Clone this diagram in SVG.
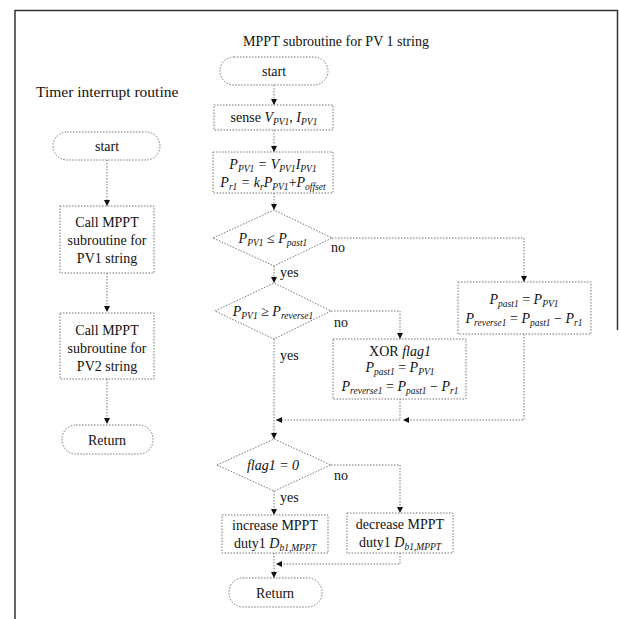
<svg xmlns="http://www.w3.org/2000/svg" width="619" height="619" viewBox="0 0 619 619">
<defs>
<style>
.frame{fill:none;stroke:#333;stroke-width:1.5}
.ln{fill:none;stroke:#777;stroke-width:1;stroke-dasharray:1.5 1.5}
.bx{fill:#fff;stroke:#777;stroke-width:1;stroke-dasharray:1.5 1.5}
.t{font-family:"Liberation Serif","Times New Roman",serif;font-size:14px;fill:#111}
.c{text-anchor:middle}
.m{font-style:italic}
.s{font-size:9.5px;font-style:italic}
</style>
<marker id="ar" markerUnits="userSpaceOnUse" markerWidth="7" markerHeight="7" refX="6" refY="3" orient="auto">
<path d="M0,0 L6,3 L0,6 z" fill="#111"/>
</marker>
</defs>
<rect width="619" height="619" fill="#fff"/>
<path class="frame" d="M15,619 V10.5 H617.5 V330"/>
<text class="t c" x="336" y="46">MPPT subroutine for PV 1 string</text>
<text class="t" x="36" y="97" style="font-size:15.5px">Timer interrupt routine</text>

<g id="connectors">
<path class="ln" d="M107,160 V206" marker-end="url(#ar)"/>
<path class="ln" d="M107,273 V312" marker-end="url(#ar)"/>
<path class="ln" d="M107,379 V424" marker-end="url(#ar)"/>
<path class="ln" d="M274,85 V105" marker-end="url(#ar)"/>
<path class="ln" d="M274,130 V152" marker-end="url(#ar)"/>
<path class="ln" d="M274,193 V210" marker-end="url(#ar)"/>
<path class="ln" d="M274,266 V283" marker-end="url(#ar)"/>
<path class="ln" d="M332,238 H524 V282" marker-end="url(#ar)"/>
<path class="ln" d="M331,311 H400 V339" marker-end="url(#ar)"/>
<path class="ln" d="M274,339 V439" marker-end="url(#ar)"/>
<path class="ln" d="M524,334 V420 H403" marker-end="url(#ar)"/>
<path class="ln" d="M400,399 V420 H276" marker-end="url(#ar)"/>
<path class="ln" d="M331,465 H400 V513" marker-end="url(#ar)"/>
<path class="ln" d="M274,491 V515" marker-end="url(#ar)"/>
<path class="ln" d="M274,553 V578" marker-end="url(#ar)"/>
<path class="ln" d="M400,553 V564 H276" marker-end="url(#ar)"/>
</g>

<g id="t_start">
<rect class="bx" x="53" y="132" width="107" height="28" rx="14"/>
<text class="t c" x="107" y="151">start</text>
</g>
<g id="t_call1">
<rect class="bx" x="60" y="206" width="94" height="67"/>
<text class="t c" x="107" y="227">Call MPPT</text>
<text class="t c" x="107" y="245">subroutine for</text>
<text class="t c" x="107" y="263">PV1 string</text>
</g>
<g id="t_call2">
<rect class="bx" x="60" y="313" width="94" height="66"/>
<text class="t c" x="107" y="335">Call MPPT</text>
<text class="t c" x="107" y="353">subroutine for</text>
<text class="t c" x="107" y="371">PV2 string</text>
</g>
<g id="t_return">
<rect class="bx" x="62" y="425" width="91" height="29" rx="14"/>
<text class="t c" x="107" y="445">Return</text>
</g>

<g id="m_start">
<rect class="bx" x="220" y="57" width="108" height="28" rx="14"/>
<text class="t c" x="274" y="76">start</text>
</g>
<g id="m_sense">
<rect class="bx" x="214" y="105" width="119" height="25"/>
<text class="t c" x="274" y="122">sense <tspan class="m">V</tspan><tspan class="s" dy="3">PV1</tspan><tspan dy="-3">, </tspan><tspan class="m">I</tspan><tspan class="s" dy="3">PV1</tspan></text>
</g>
<g id="m_power">
<rect class="bx" x="213" y="152" width="120" height="41"/>
<text class="t c m" x="273" y="169">P<tspan class="s" dy="3">PV1</tspan><tspan dy="-3"> = V</tspan><tspan class="s" dy="3">PV1</tspan><tspan dy="-3">I</tspan><tspan class="s" dy="3">PV1</tspan></text>
<text class="t c m" x="273" y="187">P<tspan class="s" dy="3">r1</tspan><tspan dy="-3"> = k</tspan><tspan class="s" dy="3">r</tspan><tspan dy="-3">P</tspan><tspan class="s" dy="3">PV1</tspan><tspan dy="-3" font-style="normal">+</tspan><tspan>P</tspan><tspan class="s" dy="3">offset</tspan></text>
</g>
<g id="m_dec1">
<polygon class="bx" points="213,238 274,210 332,238 274,266"/>
<text class="t c m" x="273" y="243">P<tspan class="s" dy="3">PV1</tspan><tspan dy="-3" font-style="normal"> ≤ </tspan><tspan>P</tspan><tspan class="s" dy="3">past1</tspan></text>
<text class="t" x="331" y="252">no</text>
<text class="t" x="280" y="277">yes</text>
</g>
<g id="m_upd1">
<rect class="bx" x="458" y="282" width="133" height="52"/>
<text class="t c m" x="524" y="304">P<tspan class="s" dy="3">past1</tspan><tspan dy="-3" font-style="normal"> = </tspan><tspan>P</tspan><tspan class="s" dy="3">PV1</tspan></text>
<text class="t c m" x="524" y="323">P<tspan class="s" dy="3">reverse1</tspan><tspan dy="-3" font-style="normal"> = </tspan><tspan>P</tspan><tspan class="s" dy="3">past1</tspan><tspan dy="-3" font-style="normal"> − </tspan><tspan>P</tspan><tspan class="s" dy="3">r1</tspan></text>
</g>
<g id="m_dec2">
<polygon class="bx" points="215,311 274,283 331,311 274,339"/>
<text class="t c m" x="273" y="316">P<tspan class="s" dy="3">PV1</tspan><tspan dy="-3" font-style="normal"> ≥ </tspan><tspan>P</tspan><tspan class="s" dy="3">reverse1</tspan></text>
<text class="t" x="334" y="327">no</text>
<text class="t" x="280" y="360">yes</text>
</g>
<g id="m_xor">
<rect class="bx" x="333" y="339" width="133" height="60"/>
<text class="t c" x="400" y="356">XOR <tspan class="m">flag1</tspan></text>
<text class="t c m" x="400" y="372">P<tspan class="s" dy="3">past1</tspan><tspan dy="-3" font-style="normal"> = </tspan><tspan>P</tspan><tspan class="s" dy="3">PV1</tspan></text>
<text class="t c m" x="400" y="391">P<tspan class="s" dy="3">reverse1</tspan><tspan dy="-3" font-style="normal"> = </tspan><tspan>P</tspan><tspan class="s" dy="3">past1</tspan><tspan dy="-3" font-style="normal"> − </tspan><tspan>P</tspan><tspan class="s" dy="3">r1</tspan></text>
</g>
<g id="m_dec3">
<polygon class="bx" points="217,465 274,439 331,465 274,491"/>
<text class="t c m" x="273" y="470">flag1 = 0</text>
<text class="t" x="334" y="480">no</text>
<text class="t" x="280" y="502">yes</text>
</g>
<g id="m_inc">
<rect class="bx" x="222" y="515" width="106" height="38"/>
<text class="t c" x="275" y="530">increase MPPT</text>
<text class="t c" x="275" y="548">duty1 <tspan class="m">D</tspan><tspan class="s" dy="3">b1,MPPT</tspan></text>
</g>
<g id="m_decr">
<rect class="bx" x="347" y="513" width="106" height="40"/>
<text class="t c" x="400" y="529">decrease MPPT</text>
<text class="t c" x="400" y="547">duty1 <tspan class="m">D</tspan><tspan class="s" dy="3">b1,MPPT</tspan></text>
</g>
<g id="m_return">
<rect class="bx" x="229" y="578" width="93" height="29" rx="14"/>
<text class="t c" x="275" y="598">Return</text>
</g>
</svg>
